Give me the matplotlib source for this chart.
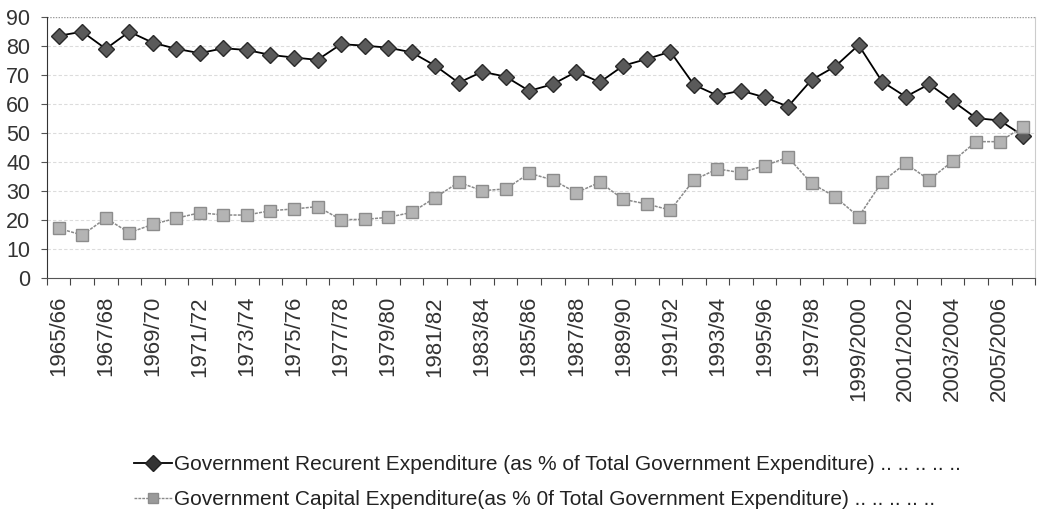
import matplotlib.pyplot as plt
from matplotlib.lines import Line2D

years = ["1965/66", "1966/67", "1967/68", "1968/69", "1969/70", "1970/71", "1971/72",
         "1972/73", "1973/74", "1974/75", "1975/76", "1976/77", "1977/78", "1978/79",
         "1979/80", "1980/81", "1981/82", "1982/83", "1983/84", "1984/85", "1985/86",
         "1986/87", "1987/88", "1988/89", "1989/90", "1990/91", "1991/92", "1992/93",
         "1993/94", "1994/95", "1995/96", "1996/97", "1997/98", "1998/99", "1999/2000",
         "2000/2001", "2001/2002", "2002/2003", "2003/2004", "2004/2005", "2005/2006",
         "2006/2007"]

recurrent = [83.5, 84.9, 79.0, 84.9, 81.1, 79.0, 77.5, 79.2, 78.6, 76.9, 76.0, 75.2,
             80.6, 80.1, 79.4, 77.8, 73.2, 67.3, 71.1, 69.4, 64.5, 66.8, 71.1, 67.5,
             73.2, 75.5, 78.0, 66.6, 62.9, 64.6, 62.3, 59.1, 68.3, 72.9, 80.3, 67.7,
             62.5, 66.8, 61.0, 55.1, 54.3, 49.0]

capital = [17.1, 14.8, 20.6, 15.6, 18.5, 20.6, 22.5, 21.7, 21.7, 23.2, 23.8, 24.6,
           20.1, 20.2, 20.9, 22.6, 27.7, 33.0, 30.1, 30.7, 36.1, 33.8, 29.4, 33.0,
           27.1, 25.5, 23.4, 33.8, 37.6, 36.3, 38.7, 41.6, 32.6, 28.0, 21.1, 33.2,
           39.5, 33.8, 40.3, 47.0, 47.0, 52.2]

plt.rcParams['font.family'] = ['Liberation Sans', 'DejaVu Sans']

fig = plt.figure(figsize=(10.39, 5.19), dpi=100)
ax = fig.add_axes([0.0452, 0.4644, 0.951, 0.503])

x = list(range(len(years)))

ax.plot(x, recurrent, color='black', lw=1.3, marker='D', markersize=8.5,
        markerfacecolor='#5a5a5a', markeredgecolor='#2a2a2a', markeredgewidth=1)
ax.plot(x, capital, color='#8a8a8a', lw=1.1, ls=(0, (2, 0.8)), marker='s', markersize=8.5,
        markerfacecolor='#b4b4b4', markeredgecolor='#8c8c8c', markeredgewidth=1)

ax.set_xlim(-0.5, len(years) - 0.5)
ax.set_ylim(0, 90)
ax.set_yticks(range(0, 91, 10))
ax.tick_params(axis='y', labelsize=15.5, length=4, width=0.8, color='#555555', pad=8,
               labelcolor='#333333')

# category labels every second year, ticks on the category boundaries
ax.set_xticks(x[::2])
ax.set_xticklabels(years[::2], rotation=90, fontsize=16, color='#333333')
ax.set_xticks([i - 0.5 for i in range(len(years) + 1)], minor=True)
ax.tick_params(axis='x', which='major', length=0, pad=13)
ax.tick_params(axis='x', which='minor', length=5, width=0.8, color='#444444')

for v in range(10, 90, 10):
    ax.axhline(v, color='#dcdcdc', lw=0.8, ls=(0, (3, 2)), zorder=0)
ax.axhline(90, color='#9a9a9a', lw=1, ls=(0, (1, 1)), zorder=0)

ax.spines['top'].set_visible(False)
ax.spines['right'].set_color('#cccccc')
ax.spines['right'].set_linestyle((0, (1, 1)))
ax.spines['left'].set_color('#333333')
ax.spines['bottom'].set_color('#555555')

handles = [
    Line2D([], [], color='black', lw=1.3, marker='D', markersize=8,
           markerfacecolor='#333333', markeredgecolor='#222222'),
    Line2D([], [], color='#8a8a8a', lw=1.0, ls=(0, (2, 0.8)), marker='s', markersize=7,
           markerfacecolor='#9a9a9a', markeredgecolor='#8c8c8c'),
]
labels = [
    "Government Recurent Expenditure (as % of Total Government Expenditure) .. .. .. .. ..",
    "Government Capital Expenditure(as % 0f Total Government Expenditure) .. .. .. .. ..",
]
fig.legend(handles, labels, loc='upper left', bbox_to_anchor=(0.121, 0.139),
           frameon=False, handlelength=1.8, handletextpad=0.1,
           labelspacing=0.75, borderaxespad=0, labelcolor='#222222',
           prop={'family': ['Liberation Sans', 'DejaVu Sans'], 'size': 15})

fig.savefig('out.png', dpi=100)
